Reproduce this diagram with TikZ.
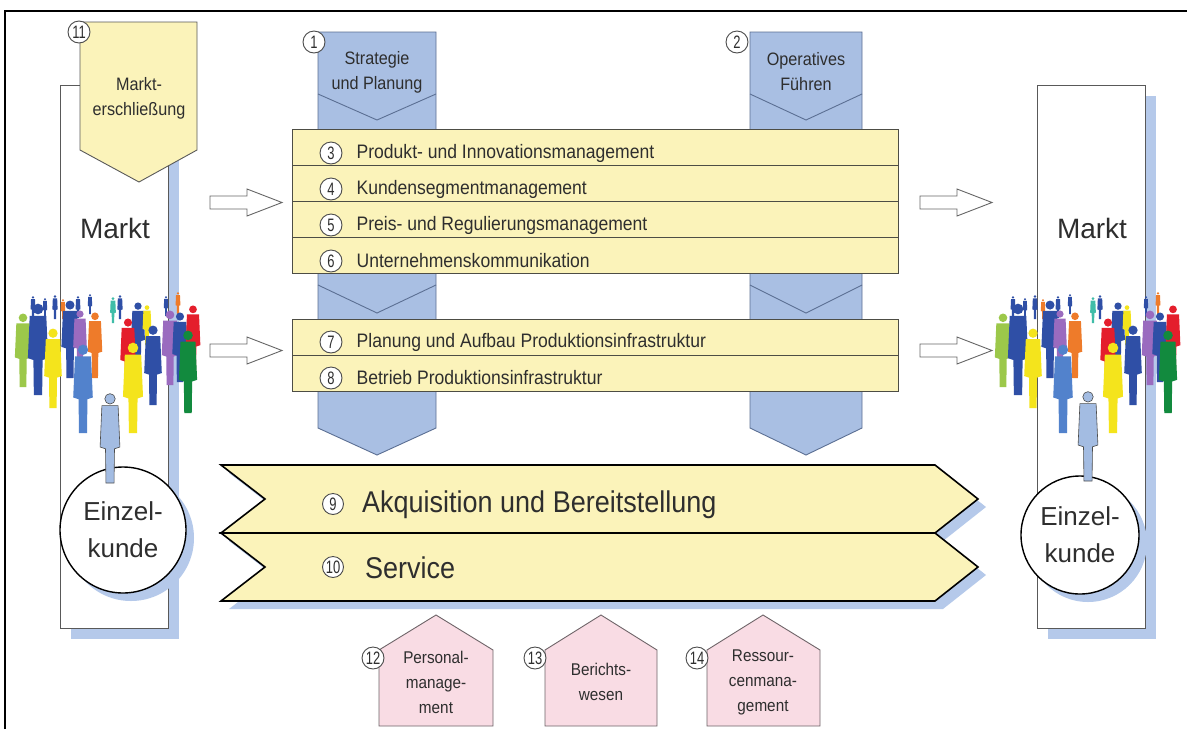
\documentclass[tikz,border=0pt]{standalone}
\usepackage{fontspec}
\setmainfont{Liberation Sans}
\newfontfamily\narrowfont[FakeStretch=0.9]{Liberation Sans}
\newfontfamily\badgefont[FakeStretch=0.72]{Liberation Sans}
\usetikzlibrary{positioning, shadows}

\definecolor{rowyellow}{HTML}{FBF3BA}
\definecolor{rowline}{HTML}{4D4D45}
\definecolor{procblue}{HTML}{A9BFE3}
\definecolor{procline}{HTML}{5B6F93}
\definecolor{shadowblue}{HTML}{B5C9EA}
\definecolor{supportpink}{HTML}{F9DCE4}
\definecolor{supportline}{HTML}{6E6468}
\definecolor{textgray}{HTML}{2E2E2E}
\definecolor{badgeline}{HTML}{4A4A4A}
\definecolor{figgreen}{HTML}{9CC84A}
\definecolor{figblue}{HTML}{2F4FA6}
\definecolor{figyellow}{HTML}{F4E41C}
\definecolor{figorange}{HTML}{EE7B2A}
\definecolor{figpurple}{HTML}{9A6BBF}
\definecolor{figred}{HTML}{E41E2C}
\definecolor{figdgreen}{HTML}{128A3E}
\definecolor{figmid}{HTML}{5282CC}
\definecolor{figteal}{HTML}{40BDA8}
\definecolor{figlight}{HTML}{A3BCE2}

% one standing figure: top of head at (#1,#2), height #3, fill options #4
\newcommand{\person}[4]{%
  \begin{scope}[shift={(#1,#2)}, scale=#3]
    \fill[#4] (0,0.065) circle (0.058);
    \fill[#4] (-0.09,0.14) -- (0.09,0.14) -- (0.11,0.6) -- (0.05,0.62)
      -- (0.045,1) -- (-0.045,1) -- (-0.05,0.62) -- (-0.11,0.6) -- cycle;
  \end{scope}}

% the crowd in front of a market column
\newcommand{\crowd}{%
  % back row
  \person{33}{296}{22}{figblue}
  \person{45}{298}{20}{figblue}
  \person{55}{295}{24}{figblue}
  \person{63}{299}{20}{figorange}
  \person{78}{296}{22}{figblue}
  \person{90}{294}{20}{figblue}
  \person{113}{297}{26}{figteal}
  \person{120}{295}{24}{figblue}
  \person{166}{296}{20}{figblue}
  \person{178}{292}{22}{figorange}
  % middle row
  \person{23}{313}{74}{figgreen}
  \person{70}{300}{78}{figblue}
  \person{80}{310}{62}{figpurple}
  \person{95}{312}{66}{figorange}
  \person{138}{302}{63}{figblue}
  \person{128}{318}{70}{figred}
  \person{147}{305}{40}{figyellow}
  \person{170}{310}{75}{figpurple}
  \person{180}{312}{70}{figblue}
  \person{193}{305}{67}{figred}
  % front row
  \person{38}{303}{92}{figblue}
  \person{53}{328}{80}{figyellow}
  \person{83}{344}{89}{figmid}
  \person{133}{342}{91}{figyellow}
  \person{153}{325}{80}{figblue}
  \person{188}{330}{83}{figdgreen}
}

\begin{document}
\begin{tikzpicture}[x=1pt, y=-1pt,
  txt/.style={text=textgray, inner sep=0pt},
  badge/.style={circle, draw=badgeline, fill=white, line width=0.9pt, minimum size=22pt, inner sep=0pt, text=textgray, font=\badgefont\fontsize{18}{18}\selectfont},
  market/.style={rectangle, draw=gray!70!black, fill=white, line width=0.8pt, minimum width=108pt, minimum height=543pt, inner sep=0pt, drop shadow={shadow xshift=11pt, shadow yshift=-11pt, fill=shadowblue, opacity=1}},
  markttxt/.style={txt, font=\fontsize{28}{28}\selectfont},
  kunde/.style={circle, draw=black, fill=white, line width=1.4pt, align=center, text=textgray, inner sep=0pt, font=\fontsize{26}{37}\selectfont, drop shadow={shadow xshift=8pt, shadow yshift=-8pt, fill=shadowblue, opacity=1}},
  process/.style={fill=procblue, draw=procline, line width=0.9pt},
  vline/.style={draw=procline, line width=0.9pt},
  headtxt/.style={txt, align=center, font=\narrowfont\fontsize{18}{25}\selectfont},
  row/.style={rectangle, fill=rowyellow, draw=rowline, line width=0.9pt, minimum width=606pt, minimum height=36pt, inner sep=0pt, outer sep=0pt},
  rowtxt/.style={txt, font=\narrowfont\fontsize{19.5}{19.5}\selectfont},
  band/.style={fill=rowyellow, draw=black, line width=1.6pt, drop shadow={shadow xshift=8pt, shadow yshift=-8pt, fill=shadowblue, opacity=1}},
  bandtxt/.style={txt, font=\narrowfont\fontsize{30}{30}\selectfont},
  support/.style={fill=supportpink, draw=supportline, line width=0.9pt},
  supporttxt/.style={txt, align=center, font=\narrowfont\fontsize{17}{25}\selectfont},
  hollow/.style={fill=white, draw=gray!80!black, line width=0.9pt}
]
  \useasboundingbox (0,0) rectangle (1187,729);
  \fill[white] (0,0) rectangle (1187,729);
  \draw[line width=1.6pt] (5,729) -- (5,11) -- (1187,11);

  % Market columns
  \node[market] (marketL) at (114,356.5) {};
  \node[market] (marketR) at (1091,356.5) {};
  \node[markttxt] (markttxtL) at (115,228) {Markt};
  \node[markttxt] (markttxtR) at (1092,228) {Markt};

  % Market development
  \draw[fill=rowyellow, draw=gray!70!black, line width=0.9pt] (80,22) -- (197,22) -- (197,150) -- (139,182) -- (80,150) -- cycle;
  \node[headtxt] (mktdev) at (139,98) {Markt-\\erschließung};
  \node[badge] (b11) at (79,32) {11};

  % Customers
  \crowd
  \begin{scope}[xshift=980pt]
    \crowd
  \end{scope}
  \node[kunde, minimum size=126pt] (kundeL) at (123,530) {Einzel-\\kunde};
  \node[kunde, minimum size=118pt] (kundeR) at (1080,535) {Einzel-\\kunde};
  \person{110}{393}{90}{figlight, draw=black!70, line width=0.6pt}
  \person{1088}{391}{90}{figlight, draw=black!70, line width=0.6pt}

  % Management columns
  \draw[process] (318,32) -- (436,32) -- (436,428) -- (377,455) -- (318,428) -- cycle;
  \draw[process] (750,32) -- (862,32) -- (862,428) -- (806,455) -- (750,428) -- cycle;
  \draw[vline] (318,94) -- (377,120) -- (436,94);
  \draw[vline] (750,94) -- (806,120) -- (862,94);
  \draw[vline] (318,285) -- (377,313) -- (436,285);
  \draw[vline] (750,285) -- (806,313) -- (862,285);
  \node[headtxt] (strat) at (377,72) {Strategie\\und Planung};
  \node[headtxt] (oper) at (806,72) {Operatives\\Führen};
  \node[badge] (b1) at (314,42) {1};
  \node[badge] (b2) at (737,42) {2};

  % Market-facing processes
  \node[row] (r3) at (595,147) {};
  \node[row, below=0pt of r3] (r4) {};
  \node[row, below=0pt of r4] (r5) {};
  \node[row, below=0pt of r5] (r6) {};
  \node[badge] (b3) at (331,153) {3};
  \node[badge] (b4) at (331,189) {4};
  \node[badge] (b5) at (331,225) {5};
  \node[badge] (b6) at (331,261) {6};
  \node[rowtxt, right=14pt of b3] (t3) {Produkt- und Innovationsmanagement};
  \node[rowtxt, right=14pt of b4] (t4) {Kundensegmentmanagement};
  \node[rowtxt, right=14pt of b5] (t5) {Preis- und Regulierungsmanagement};
  \node[rowtxt, right=14pt of b6] (t6) {Unternehmenskommunikation};

  % Production processes
  \node[row] (r7) at (595,337) {};
  \node[row, below=0pt of r7] (r8) {};
  \node[badge] (b7) at (331,342) {7};
  \node[badge] (b8) at (331,378) {8};
  \node[rowtxt, right=14pt of b7] (t7) {Planung und Aufbau Produktionsinfrastruktur};
  \node[rowtxt, right=14pt of b8] (t8) {Betrieb Produktionsinfrastruktur};

  % Flow arrows
  \draw[hollow] (210,196) -- ++(37,0) -- ++(0,-7) -- ++(35,13.5) -- ++(-35,13.5) -- ++(0,-7) -- ++(-37,0) -- cycle;
  \draw[hollow] (210,344) -- ++(37,0) -- ++(0,-7) -- ++(35,13.5) -- ++(-35,13.5) -- ++(0,-7) -- ++(-37,0) -- cycle;
  \draw[hollow] (920,196) -- ++(37,0) -- ++(0,-7) -- ++(35,13.5) -- ++(-35,13.5) -- ++(0,-7) -- ++(-37,0) -- cycle;
  \draw[hollow] (920,344) -- ++(37,0) -- ++(0,-7) -- ++(35,13.5) -- ++(-35,13.5) -- ++(0,-7) -- ++(-37,0) -- cycle;

  % Customer processes
  \draw[band] (221,465) -- (935,465) -- (978,499) -- (935,533) -- (221,533) -- (265,499) -- cycle;
  \draw[band] (221,533) -- (935,533) -- (978,567) -- (935,601) -- (221,601) -- (265,567) -- cycle;
  \node[badge, minimum size=21pt] (b9) at (333,504) {9};
  \node[badge, minimum size=21pt] (b10) at (333,567) {10};
  \node[bandtxt, anchor=west] (t9) at (362,505) {Akquisition und Bereitstellung};
  \node[bandtxt, anchor=west] (t10) at (365,568) {Service};

  % Support processes
  \draw[support] (379,650) -- (436,615) -- (493,650) -- (493,726) -- (379,726) -- cycle;
  \draw[support] (545,650) -- (601,615) -- (657,650) -- (657,726) -- (545,726) -- cycle;
  \draw[support] (707,650) -- (763,615) -- (820,650) -- (820,726) -- (707,726) -- cycle;
  \node[supporttxt] (pers) at (436,682) {Personal-\\manage-\\ment};
  \node[supporttxt] (bericht) at (601,682) {Berichts-\\wesen};
  \node[supporttxt] (ress) at (763,682) {Ressour-\\cenmana-\\gement};
  \node[badge] (b12) at (373,658) {12};
  \node[badge] (b13) at (535,658) {13};
  \node[badge] (b14) at (697,658) {14};
\end{tikzpicture}
\end{document}
